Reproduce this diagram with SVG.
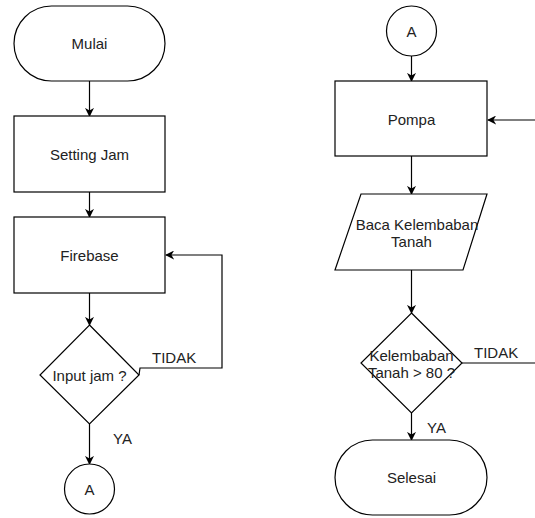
<svg xmlns="http://www.w3.org/2000/svg" width="535" height="518" viewBox="0 0 535 518">
<defs>
<marker id="arr" viewBox="0 0 10 10" refX="9" refY="5" markerWidth="9" markerHeight="9" markerUnits="userSpaceOnUse" orient="auto">
<path d="M0,0 L10,5 L0,10 L3,5 Z" fill="#000"/>
</marker>
</defs>
<style>
.s{fill:#fff;stroke:#000;stroke-width:1.2}
.c{fill:none;stroke:#000;stroke-width:1.2;marker-end:url(#arr)}
.l{fill:none;stroke:#000;stroke-width:1.2}
text{font-family:"Liberation Sans",Arial,sans-serif;font-size:15px;fill:#222}
.m{text-anchor:middle}
</style>
<rect width="535" height="518" fill="#fff"/>
<g id="connectors">
<path class="c" d="M89.5,81 V116"/>
<path class="c" d="M89.5,192 V217"/>
<path class="c" d="M89.5,293 V325"/>
<path class="c" d="M139,375 L140,368 H222 V255 H166"/>
<path class="c" d="M89.5,424 V464"/>
<path class="c" d="M411.5,56 V81"/>
<path class="c" d="M535,120 H488"/>
<path class="c" d="M411.5,156 V194"/>
<path class="c" d="M411.5,270 V313"/>
<path class="l" d="M462,363 H535"/>
<path class="c" d="M411.5,413 V440"/>
<text x="152" y="363">TIDAK</text>
<text x="113" y="444">YA</text>
<text x="474" y="358">TIDAK</text>
<text x="427" y="433">YA</text>
</g>
<g id="mulai">
<rect class="s" x="14" y="6" width="151" height="75" rx="37.5" ry="37.5"/>
<text class="m" x="89.5" y="48.5">Mulai</text>
</g>
<g id="setting-jam">
<rect class="s" x="14" y="116" width="151" height="76"/>
<text class="m" x="89.5" y="159.5">Setting Jam</text>
</g>
<g id="firebase">
<rect class="s" x="14" y="217" width="151" height="76"/>
<text class="m" x="89.5" y="260.5">Firebase</text>
</g>
<g id="input-jam">
<path class="s" d="M89.5,325 L139,375 L89.5,424 L40,375 Z"/>
<text class="m" x="89.5" y="381">Input jam ?</text>
</g>
<g id="a-left">
<circle class="s" cx="89.5" cy="489" r="25"/>
<text class="m" x="89.5" y="494.5">A</text>
</g>
<g id="a-right">
<circle class="s" cx="411.5" cy="31" r="25"/>
<text class="m" x="411.5" y="37">A</text>
</g>
<g id="pompa">
<rect class="s" x="335" y="81" width="152" height="75"/>
<text class="m" x="411.5" y="125">Pompa</text>
</g>
<g id="baca">
<path class="s" d="M361,194 H487 L463,270 H335 Z"/>
<text class="m" x="417" y="229.5">Baca Kelembaban</text>
<text class="m" x="411.5" y="247">Tanah</text>
</g>
<g id="kelembaban">
<path class="s" d="M411.5,313 L462,363 L411.5,413 L361,363 Z"/>
<text class="m" x="411.5" y="361">Kelembaban</text>
<text class="m" x="411.5" y="378">Tanah &gt; 80 ?</text>
</g>
<g id="selesai">
<rect class="s" x="335" y="440" width="152" height="75" rx="37.5" ry="37.5"/>
<text class="m" x="411.5" y="483">Selesai</text>
</g>
</svg>
